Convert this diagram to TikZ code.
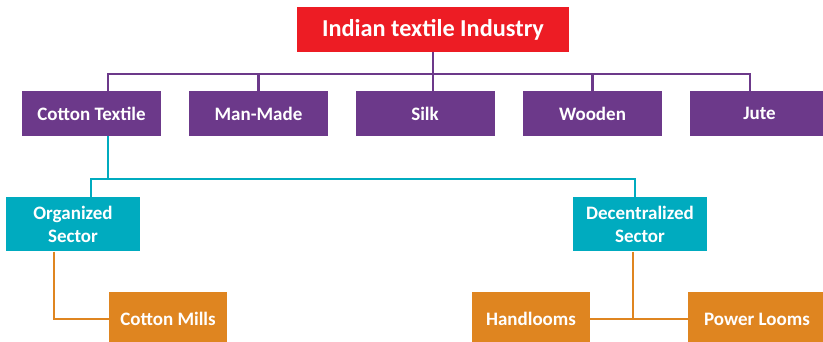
\documentclass[tikz,border=0pt]{standalone}
\usepackage{fontspec}
\setmainfont{Carlito}
\definecolor{cred}{HTML}{ED1C24}
\definecolor{cpur}{HTML}{6C398A}
\definecolor{ccya}{HTML}{00ABBF}
\definecolor{cora}{HTML}{DF8520}
\begin{document}
\begin{tikzpicture}[x=1pt,y=-1pt,
  box/.style={rectangle,inner sep=0pt,text=white,font=\bfseries\fontsize{19}{23}\selectfont,align=center},
  titlebox/.style={box,fill=cred,minimum width=272pt,minimum height=45pt,font=\bfseries\fontsize{24.3}{28}\selectfont},
  catbox/.style={box,fill=cpur,minimum width=139pt,minimum height=45pt},
  secbox/.style={box,fill=ccya,minimum width=134pt,minimum height=54pt},
  leafbox/.style={box,fill=cora,minimum width=118pt,minimum height=54pt},
  pline/.style={cpur,line width=2.7pt},
  cline/.style={ccya,line width=2.7pt},
  oline/.style={cora,line width=2.7pt}]
\useasboundingbox (0,0) rectangle (823,342);
% nodes
\node[titlebox] (top) at (433,29.5) {Indian textile Industry};
\node[catbox] (ct) at (91.5,113.5) {Cotton Textile};
\node[catbox] (mm) at (258.5,113.5) {Man-Made};
\node[catbox] (sk) at (425,113.5) {Silk};
\node[catbox] (wd) at (592.5,113.5) {Wooden};
\node[catbox] (ju) at (759.5,113.5) {Jute};
\node[secbox] (org) at (73,224.5) {Organized\\Sector};
\node[secbox] (dec) at (640,224.5) {Decentralized\\Sector};
\node[leafbox] (cm) at (168,319) {Cotton Mills};
\node[leafbox] (hl) at (531,319) {Handlooms};
\node[leafbox,minimum width=138pt] (pl) at (757,319) {Power Looms};
% coordinates
\coordinate (pbus) at (433,74);
\coordinate (cbus) at (108,179);
% purple connectors
\draw[pline] (top.south) -- (pbus);
\draw[pline] ([xshift=16.5pt]ct.north) |- (pbus) -| ([xshift=-9.5pt]ju.north);
\draw[pline] (mm.north) -- (mm.north |- pbus);
\draw[pline] (sk.north -| pbus) -- (pbus);
\draw[pline] (wd.north) -- (wd.north |- pbus);
% cyan connectors
\draw[cline] ([xshift=16.5pt]ct.south) -- (cbus);
\draw[cline] ([xshift=18pt]org.north) |- (cbus) -| ([xshift=-5pt]dec.north);
% orange connectors
\draw[oline] ([xshift=-19pt]org.south) |- (cm.west);
\draw[oline] ([xshift=-7pt]dec.south) -- ([xshift=-7pt]dec.south |- hl.east);
\draw[oline] (hl.east) -- (pl.west);
\end{tikzpicture}
\end{document}
